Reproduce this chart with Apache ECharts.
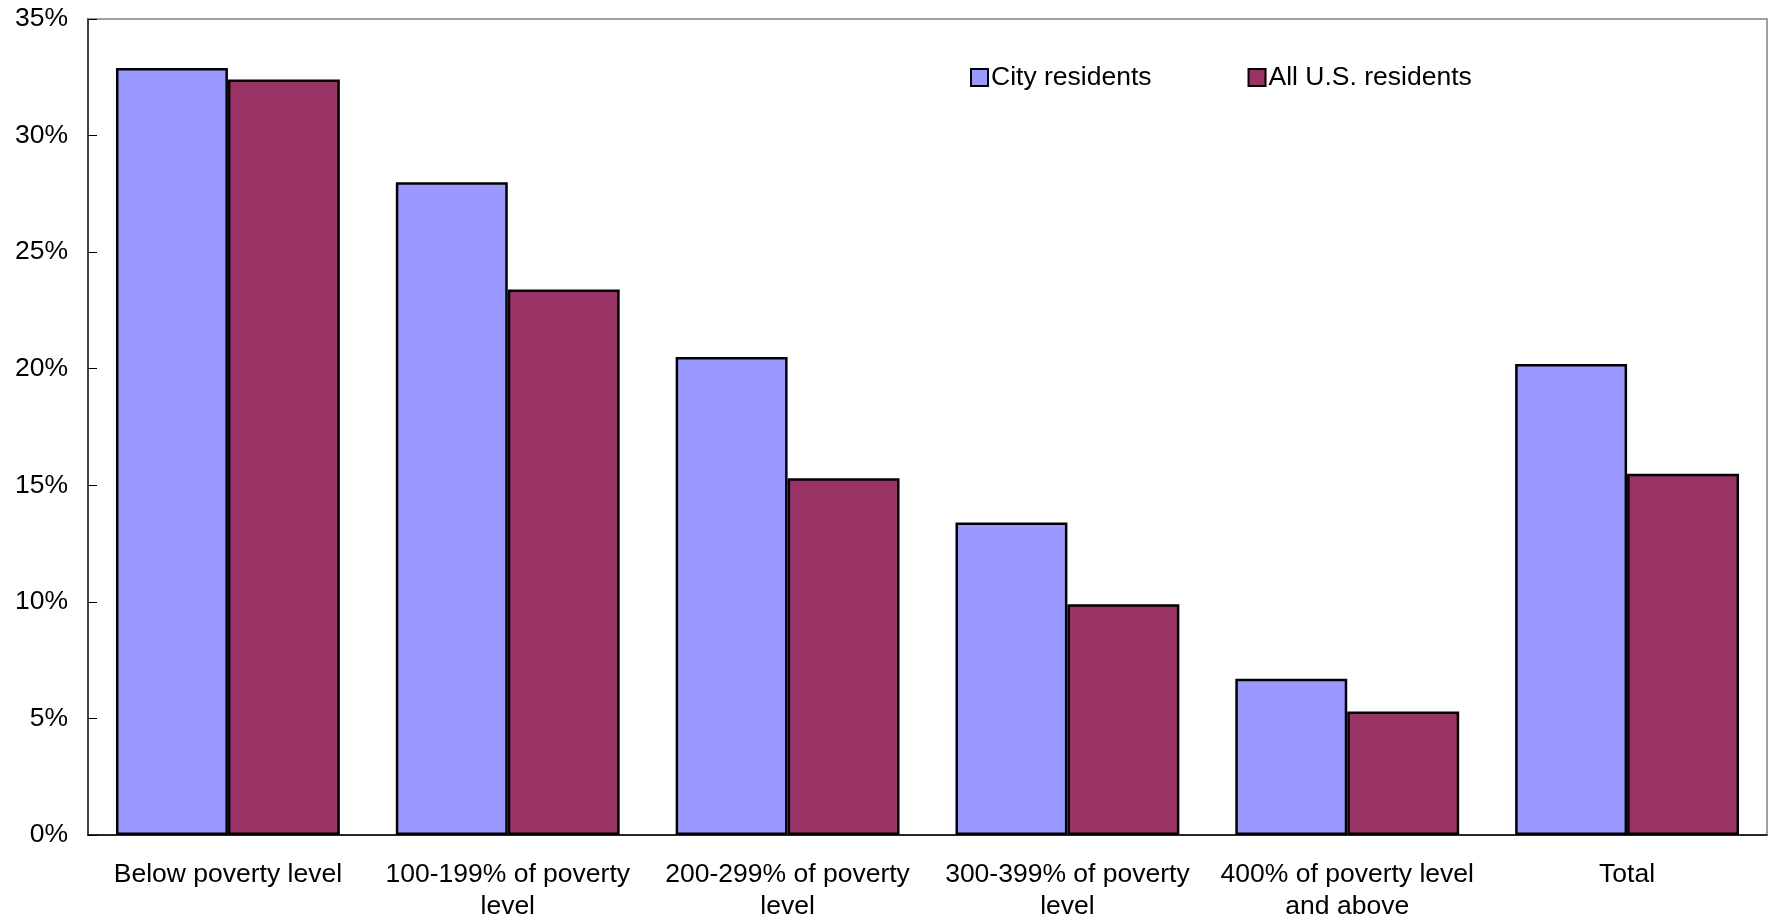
<!DOCTYPE html>
<html><head><meta charset="utf-8">
<script src="https://cdn.jsdelivr.net/npm/echarts@6/dist/echarts.min.js"></script>
<style>html,body{margin:0;padding:0;background:#fff}#c{width:1769px;height:923px}</style>
</head><body><div id="c"></div>
<script>
const categories = ['Below poverty level', '100-199% of poverty\nlevel', '200-299% of poverty\nlevel', '300-399% of poverty\nlevel', '400% of poverty level\nand above', 'Total'];
const cityResidents = [32.9, 28.0, 20.5, 13.4, 6.7, 20.2];
const usResidents = [32.4, 23.4, 15.3, 9.9, 5.3, 15.5];
const seriesNames = ['City residents', 'All U.S. residents'];
const yTicks = [0, 5, 10, 15, 20, 25, 30, 35];

const font = 'Arial, "Liberation Sans", sans-serif';
const chart = echarts.init(document.getElementById('c'));
chart.setOption({
  animation: false,
  grid: { left: 88, right: 2, top: 19, bottom: 87, show: true, borderColor: '#808080', borderWidth: 1.5, containLabel: false },
  legend: {
    left: 965, top: 59, itemWidth: 17, itemHeight: 17, itemGap: 96, icon: 'rect',
    textStyle: { fontFamily: font, fontSize: 26.5, color: '#000', padding: [0, 0, 0, -2] },
    data: seriesNames
  },
  xAxis: {
    type: 'category', data: categories,
    axisLine: { lineStyle: { color: '#000', width: 1.5 } },
    axisTick: { inside: true, length: 9, lineStyle: { color: '#000' } },
    axisLabel: { fontFamily: font, fontSize: 26.5, color: '#000', lineHeight: 32, margin: 24, interval: 0 }
  },
  yAxis: {
    type: 'value', min: yTicks[0], max: yTicks[yTicks.length - 1], interval: 5,
    axisLine: { show: true, lineStyle: { color: '#222', width: 1.5 } },
    axisTick: { show: true, inside: true, length: 9, lineStyle: { color: '#000' } },
    splitLine: { show: false },
    axisLabel: { fontFamily: font, fontSize: 26.5, color: '#000', margin: 20, formatter: v => v + '%' }
  },
  series: [
    { name: seriesNames[0], type: 'bar', data: cityResidents, barGap: '0%', barCategoryGap: '20%',
      itemStyle: { color: '#9999FF', borderColor: '#000', borderWidth: 2.5 } },
    { name: seriesNames[1], type: 'bar', data: usResidents,
      itemStyle: { color: '#993366', borderColor: '#000', borderWidth: 2.5 } }
  ]
});
</script></body></html>
